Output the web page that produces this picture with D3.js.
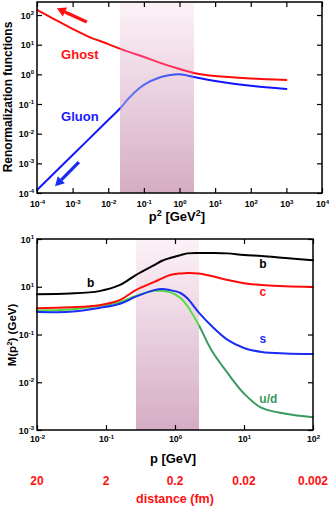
<!DOCTYPE html>
<html>
<head>
<meta charset="utf-8">
<script src="https://cdn.jsdelivr.net/npm/d3@7"></script>
<style>
  body { margin: 0; background: #fff; }
  svg { display: block; font-family: "Liberation Sans", Arial, sans-serif; font-weight: bold; }
</style>
</head>
<body>
<div id="chart"></div>
<script>
// ---- data ----
// upper panel: renormalization functions vs p^2 [GeV^2]
var ghostP2 = [1e-4, 3e-4, 1e-3, 3e-3, 1e-2, 3e-2, 0.1, 0.3, 1, 3, 10, 100, 1000];
var ghostZ  = [148, 73, 34, 18, 10.5, 6.3, 3.85, 2.4, 1.52, 1.07, 0.88, 0.73, 0.65];
var gluonP2 = [1e-4, 1e-3, 1e-2, 0.021, 0.04, 0.1, 0.3, 0.55, 1, 3, 10, 100, 1000];
var gluonZ  = [1.26e-4, 1.9e-3, 0.029, 0.069, 0.17, 0.44, 0.81, 0.95, 1.0, 0.78, 0.6, 0.41, 0.32];
var topXTicks = [1e-4, 1e-3, 1e-2, 1e-1, 1, 1e1, 1e2, 1e3, 1e4];
var topXExp   = ["-4", "-3", "-2", "-1", "0", "1", "2", "3", "4"];
var topYTicks = [1e-4, 1e-3, 1e-2, 1e-1, 1, 1e1, 1e2];
var topYExp   = ["-4", "-3", "-2", "-1", "0", "1", "2"];
var topShade  = [0.0214, 2.55];

// lower panel: running quark masses vs p [GeV]
var massP  = [0.01, 0.03, 0.08, 0.16, 0.27, 0.5, 0.65, 0.85, 1.2, 1.5, 2.2, 3.4, 5.8, 10, 18, 40, 100];
var massB  = [0.70, 0.72, 0.81, 1.09, 1.76, 2.85, 3.5, 4.0, 4.6, 5.0, 5.1, 5.1, 5.0, 4.6, 4.4, 4.0, 3.6];
var massC  = [0.355, 0.37, 0.41, 0.53, 0.85, 1.26, 1.5, 1.76, 1.9, 1.95, 1.9, 1.68, 1.38, 1.19, 1.09, 1.02, 0.99];
var massS  = [0.295, 0.30, 0.36, 0.44, 0.62, 0.85, 0.90, 0.85, 0.74, 0.58, 0.29, 0.15, 0.077, 0.052, 0.043, 0.040, 0.039];
var massUD = [0.32, 0.335, 0.40, 0.48, 0.64, 0.82, 0.82, 0.77, 0.58, 0.40, 0.16, 0.046, 0.0155, 0.0058, 0.0029, 0.0022, 0.00186];
var botXTicks = [1e-2, 1e-1, 1, 1e1, 1e2];
var botXExp   = ["-2", "-1", "0", "1", "2"];
var botYTicks = [1e1, 1, 1e-1, 1e-2, 1e-3];
var botYExp   = ["1", "1", "-1", "-2", "-3"];   // as printed in the original
var distLabels = ["20", "2", "0.2", "0.02", "0.002"];
var botShade  = [0.272, 2.23];

var fullwidth = 332, fullheight = 506;

var svg = d3.select("#chart").append("svg")
    .attr("width", fullwidth)
    .attr("height", fullheight);

var defs = svg.append("defs");
var sg = defs.append("linearGradient").attr("id", "shade")
    .attr("x1", 0).attr("y1", 0).attr("x2", 0).attr("y2", 1);
sg.append("stop").attr("offset", 0).attr("stop-color", "#fdf2f8");
sg.append("stop").attr("offset", 1).attr("stop-color", "#d5adc4");

// scales
var xTop = d3.scaleLog().domain([1e-4, 1e4]).range([37, 322]);
var yTop = d3.scaleLog().domain([1e-4, 275]).range([193, 2]);
var xBot = d3.scaleLog().domain([1e-2, 1e2]).range([37, 313]);
var yBot = d3.scaleLog().domain([1e-3, 10]).range([430, 239]);

// stroke gradient that changes colour over the shaded band
function bandGradient(id, x, band, stops) {
    var r = x.range(), w = r[1] - r[0];
    var a = (x(band[0]) - r[0]) / w, b = (x(band[1]) - r[0]) / w;
    var g = defs.append("linearGradient").attr("id", id)
        .attr("gradientUnits", "userSpaceOnUse")
        .attr("x1", r[0]).attr("x2", r[1]).attr("y1", 0).attr("y2", 0);
    [[0, stops[0]], [a, stops[0]], [a + 0.002, stops[1]], [b, stops[2]], [b + 0.002, stops[3]], [1, stops[3]]]
        .forEach(function(s) { g.append("stop").attr("offset", s[0]).attr("stop-color", s[1]); });
    return "url(#" + id + ")";
}

function supText(sel, exps) {
    sel.each(function(d, i) {
        var t = d3.select(this).text(null);
        t.append("tspan").text("10");
        t.append("tspan").attr("dy", -3.5).attr("font-size", 6).text(exps[i]);
    });
}

function panel(x, y, xt, xe, yt, ye, band, xLabY) {
    var r = x.range(), ry = y.range();
    var g = svg.append("g");

    g.append("rect")
        .attr("x", x(band[0])).attr("y", ry[1])
        .attr("width", x(band[1]) - x(band[0]))
        .attr("height", ry[0] - ry[1])
        .attr("fill", "url(#shade)");

    var ax = [
        [d3.axisBottom(x), "translate(0," + ry[0] + ")", xt, true],
        [d3.axisTop(x), "translate(0," + ry[1] + ")", xt, false],
        [d3.axisLeft(y), "translate(" + r[0] + ",0)", yt, true],
        [d3.axisRight(y), "translate(" + r[1] + ",0)", yt, false]
    ];
    ax.forEach(function(a, k) {
        var ag = g.append("g").attr("transform", a[1])
            .call(a[0].tickValues(a[2]).tickSize(-5).tickFormat(a[3] ? null : ""));
        ag.select(".domain").remove();
        ag.selectAll(".tick line").attr("stroke", "#000").attr("stroke-width", 1.2);
        ag.selectAll("text").attr("fill", "#000").attr("font-size", 8.8).attr("font-family", null);
        if (k == 0) {
            ag.selectAll("text").attr("dy", null).attr("y", xLabY).attr("text-anchor", "middle");
            supText(ag.selectAll("text"), xe);
        }
        if (k == 2) {
            ag.selectAll("text").attr("dy", null).attr("x", -3).attr("y", 3).attr("text-anchor", "end");
            supText(ag.selectAll("text"), ye);
        }
    });
    return g;
}

function drawLine(g, x, y, xs, ys, stroke) {
    var pts = xs.map(function(v, i) { return [x(v), y(ys[i])]; });
    g.append("path")
        .attr("d", d3.line().curve(d3.curveCatmullRom.alpha(0.5))(pts))
        .attr("fill", "none")
        .attr("stroke", stroke)
        .attr("stroke-width", 2)
        .attr("stroke-linecap", "round");
}

function arrow(g, x, y, from, to, color) {
    var x1 = x(from[0]), y1 = y(from[1]), x2 = x(to[0]), y2 = y(to[1]);
    var ang = Math.atan2(y2 - y1, x2 - x1), hl = 9, hw = 5;
    var bx = x2 - hl * Math.cos(ang), by = y2 - hl * Math.sin(ang);
    g.append("line").attr("x1", x1).attr("y1", y1).attr("x2", bx).attr("y2", by)
        .attr("stroke", color).attr("stroke-width", 3.2);
    g.append("path")
        .attr("d", "M" + x2 + "," + y2 +
            "L" + (bx + hw * Math.sin(ang)) + "," + (by - hw * Math.cos(ang)) +
            "L" + (bx - hw * Math.sin(ang)) + "," + (by + hw * Math.cos(ang)) + "Z")
        .attr("fill", color);
}

// ---- upper panel ----
var gt = panel(xTop, yTop, topXTicks, topXExp, topYTicks, topYExp, topShade, 14);
drawLine(gt, xTop, yTop, ghostP2, ghostZ,
    bandGradient("ghostStroke", xTop, topShade, ["#ff0a0a", "#ff3868", "#ff2850", "#ff0a0a"]));
drawLine(gt, xTop, yTop, gluonP2, gluonZ,
    bandGradient("gluonStroke", xTop, topShade, ["#1414ff", "#6a7af2", "#3344f6", "#1414ff"]));
gt.append("rect").attr("x", 37).attr("y", 2).attr("width", 285).attr("height", 191)
    .attr("fill", "none").attr("stroke", "#000").attr("stroke-width", 1.5);

arrow(gt, xTop, yTop, [2.5e-3, 58], [3.6e-4, 170], "#ff1010");
arrow(gt, xTop, yTop, [1.5e-3, 1.1e-3], [3.2e-4, 1.7e-4], "#1a2cf0");

gt.append("text").attr("x", xTop(1.6e-3)).attr("y", yTop(3.4)).attr("text-anchor", "middle")
    .attr("font-size", 13).attr("fill", "#ff1010").text("Ghost");
gt.append("text").attr("x", xTop(1.6e-3)).attr("y", yTop(0.027)).attr("text-anchor", "middle")
    .attr("font-size", 13).attr("fill", "#1a1aff").text("Gluon");

var xl1 = gt.append("text").attr("x", 177).attr("y", 221).attr("text-anchor", "middle").attr("font-size", 13);
xl1.append("tspan").text("p");
xl1.append("tspan").attr("dy", -5).attr("font-size", 9).text("2");
xl1.append("tspan").attr("dy", 5).text(" [GeV");
xl1.append("tspan").attr("dy", -5).attr("font-size", 9).text("2");
xl1.append("tspan").attr("dy", 5).text("]");

gt.append("text").attr("transform", "translate(12,97) rotate(-90)")
    .attr("text-anchor", "middle").attr("font-size", 12).text("Renormalization functions");

// ---- lower panel ----
var gb = panel(xBot, yBot, botXTicks, botXExp, botYTicks, botYExp, botShade, 12);
drawLine(gb, xBot, yBot, massP, massUD,
    bandGradient("udStroke", xBot, botShade, ["#4cd63c", "#4cd63c", "#55e040", "#3a9a5e"]));
drawLine(gb, xBot, yBot, massP, massS, "#1a2cf5");
drawLine(gb, xBot, yBot, massP, massC, "#ff0a0a");
drawLine(gb, xBot, yBot, massP, massB, "#000");
gb.append("rect").attr("x", 37).attr("y", 239).attr("width", 276).attr("height", 191)
    .attr("fill", "none").attr("stroke", "#000").attr("stroke-width", 1.5);

var curveLabels = [
    ["b", 0.06, 1.0, "#000"],
    ["b", 18.8, 2.5, "#000"],
    ["c", 18.8, 0.64, "#ff1010"],
    ["s", 18.8, 0.066, "#1a2cf5"],
    ["u/d", 22.5, 0.0037, "#3a9a5e"]
];
curveLabels.forEach(function(l) {
    gb.append("text").attr("x", xBot(l[1])).attr("y", yBot(l[2])).attr("text-anchor", "middle")
        .attr("font-size", 12).attr("fill", l[3]).text(l[0]);
});

gb.append("text").attr("x", 173).attr("y", 463).attr("text-anchor", "middle")
    .attr("font-size", 13).text("p [GeV]");

var yl2 = gb.append("text").attr("transform", "translate(16,335) rotate(-90)")
    .attr("text-anchor", "middle").attr("font-size", 11.5);
yl2.append("tspan").text("M(p");
yl2.append("tspan").attr("dy", -4).attr("font-size", 8).text("2");
yl2.append("tspan").attr("dy", 4).text(") (GeV)");

gb.selectAll("text.dist")
    .data(distLabels)
    .enter().append("text")
    .attr("class", "dist")
    .attr("x", function(d, i) { return xBot(botXTicks[i]); })
    .attr("y", 485)
    .attr("text-anchor", "middle")
    .attr("font-size", 12)
    .attr("fill", "#ff1010")
    .text(function(d) { return d; });

gb.append("text").attr("x", 175).attr("y", 503).attr("text-anchor", "middle")
    .attr("font-size", 12.5).attr("fill", "#ff1010").text("distance (fm)");
</script>
</body>
</html>
